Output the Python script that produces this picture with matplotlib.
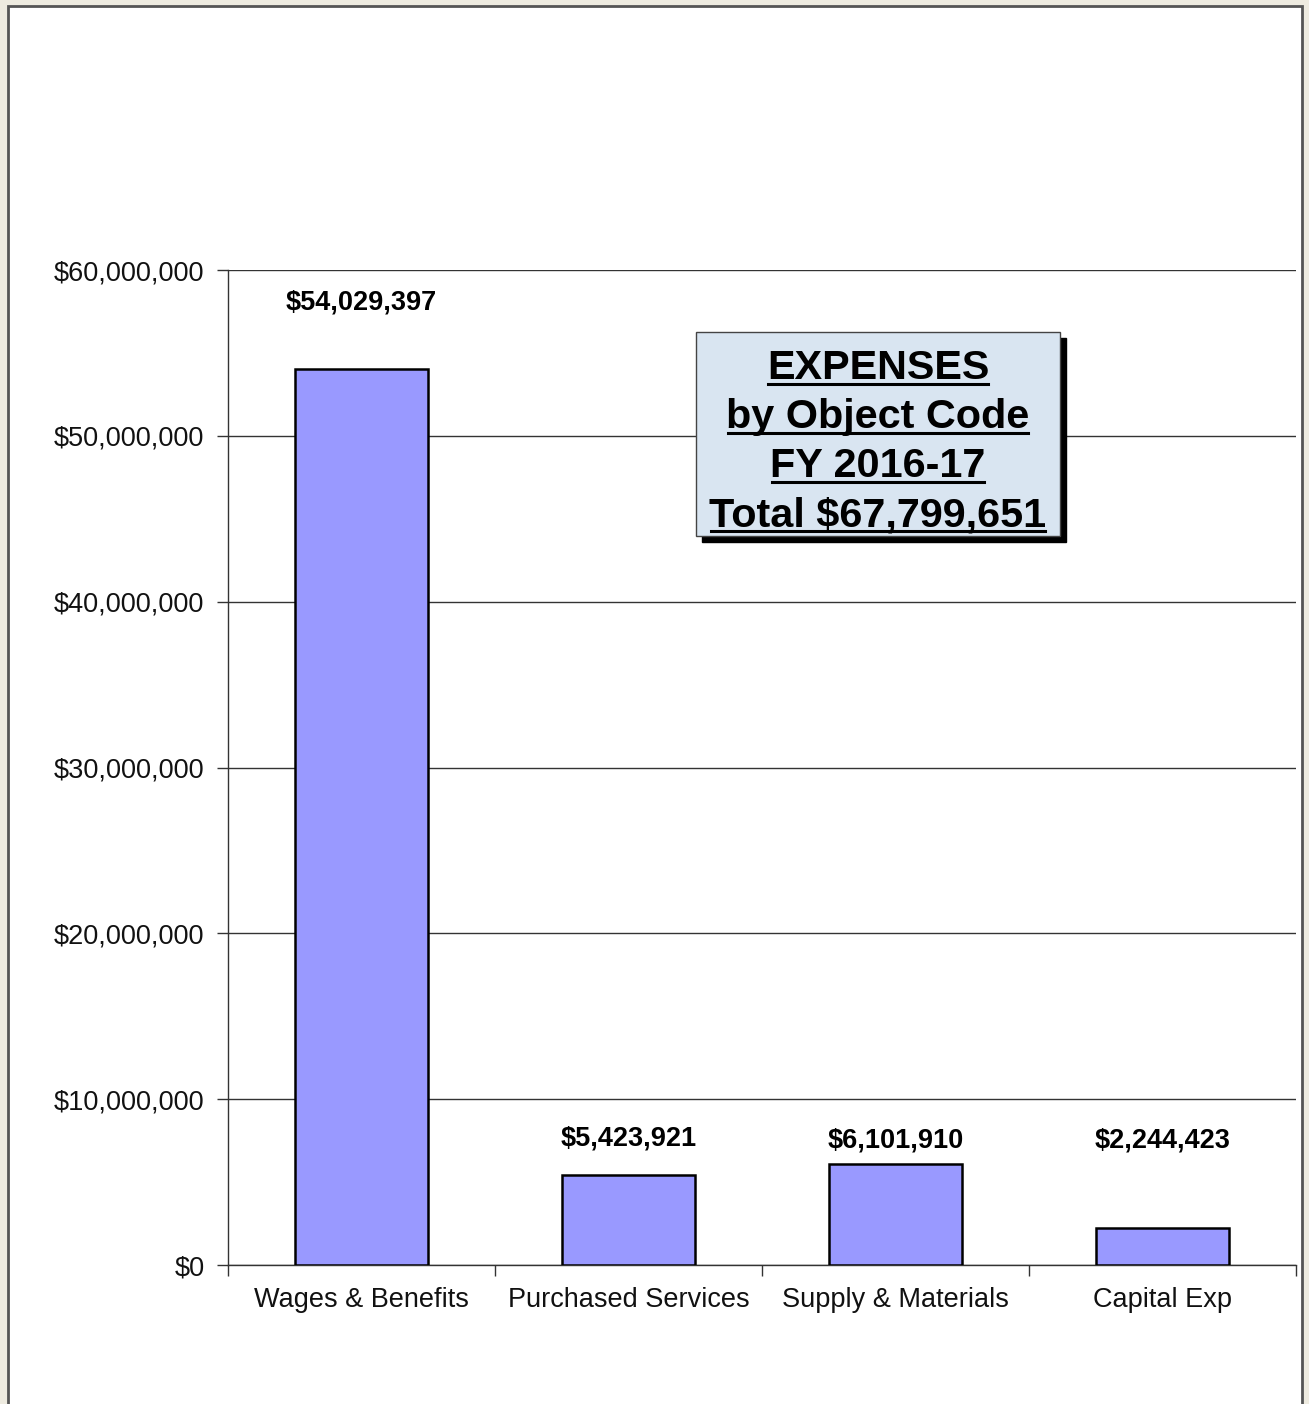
import matplotlib
matplotlib.use("Agg")
import matplotlib.pyplot as plt
from matplotlib.patches import Rectangle
from matplotlib.lines import Line2D
from matplotlib.ticker import FuncFormatter

categories = ["Wages & Benefits", "Purchased Services", "Supply & Materials", "Capital Exp"]
values = [54029397, 5423921, 6101910, 2244423]
y_ticks = [0, 10000000, 20000000, 30000000, 40000000, 50000000, 60000000]
title_lines = ["EXPENSES", "by Object Code", "FY 2016-17", "Total $67,799,651"]

W, H = 1309, 1404
plt.rcParams['font.family'] = ['Liberation Sans', 'DejaVu Sans']
fig = plt.figure(figsize=(W / 100, H / 100), dpi=100)
fig.patch.set_facecolor('#EEEBE0')

def fx(x):
    return x / W

def fy(y):
    return 1 - y / H

# white panel
panel = Rectangle((fx(8), fy(1420)), fx(1302) - fx(8), fy(6) - fy(1420),
                  transform=fig.transFigure, facecolor='white', edgecolor='#555555',
                  linewidth=2, zorder=-10)
fig.patches.append(panel)

ax = fig.add_axes([fx(228), fy(1265), fx(1296) - fx(228), fy(270) - fy(1265)])
ax.set_zorder(1)
ax.set_facecolor('none')
x = list(range(len(categories)))
ax.bar(x, values, width=0.5, color='#9999FF', edgecolor='black', linewidth=1.8, zorder=3)
ax.set_xlim(-0.5, len(categories) - 0.5)
ax.set_ylim(0, 60000000)
ax.set_yticks(y_ticks)
ax.yaxis.set_major_formatter(FuncFormatter(lambda v, p: "${:,.0f}".format(v)))
ax.set_xticks(x)
ax.set_xticklabels(categories)
ax.set_xticks([i - 0.5 for i in range(len(categories) + 1)], minor=True)
ax.tick_params(axis='x', which='major', length=0, pad=16, labelsize=19.5, labelcolor='#111111')
ax.tick_params(axis='x', which='minor', length=8, width=1, color='#333333', direction='out')
ax.tick_params(axis='y', length=8, width=1, color='#333333', direction='out', pad=9,
               labelsize=19.5, labelcolor='#111111')
ax.yaxis.grid(True, color='#333333', linewidth=1, zorder=1)
for s in ['top', 'right']:
    ax.spines[s].set_visible(False)
for s in ['left', 'bottom']:
    ax.spines[s].set_color('#333333')
    ax.spines[s].set_linewidth(1)
ax.set_axisbelow(True)

label_pos = [58050000, 7650000, 7500000, 7500000]
for i, v in enumerate(values):
    ax.text(i, label_pos[i], "${:,}".format(v), ha='center', va='center',
            fontsize=19.5, fontweight='bold', zorder=4)

# title box with shadow
bx0, by0, bx1, by1 = 696, 332, 1060, 536
shadow = Rectangle((fx(bx0 + 6), fy(by1 + 6)), fx(bx1) - fx(bx0), fy(by0) - fy(by1),
                   transform=fig.transFigure, facecolor='black', edgecolor='black', zorder=5)
box = Rectangle((fx(bx0), fy(by1)), fx(bx1) - fx(bx0), fy(by0) - fy(by1),
                transform=fig.transFigure, facecolor='#D9E5F1', edgecolor='#444444',
                linewidth=1, zorder=6)
fig.patches.append(shadow)
fig.patches.append(box)

baselines = [379, 428, 477, 526]
cx = 878
texts = []
for t, b in zip(title_lines, baselines):
    tx = fig.text(fx(cx), fy(b), t, ha='center', va='baseline', fontsize=29.8,
                  fontweight='bold', zorder=7)
    texts.append((tx, b))

fig.canvas.draw()
r = fig.canvas.get_renderer()
for tx, b in texts:
    bb = tx.get_window_extent(renderer=r)
    ly = fy(b + 5)
    fig.lines.append(Line2D([bb.x0 / W + 1.5 / W, bb.x1 / W - 1.5 / W], [ly, ly],
                            transform=fig.transFigure, color='black', linewidth=2.2, zorder=8))

fig.savefig('out.png', dpi=100, facecolor=fig.get_facecolor())
